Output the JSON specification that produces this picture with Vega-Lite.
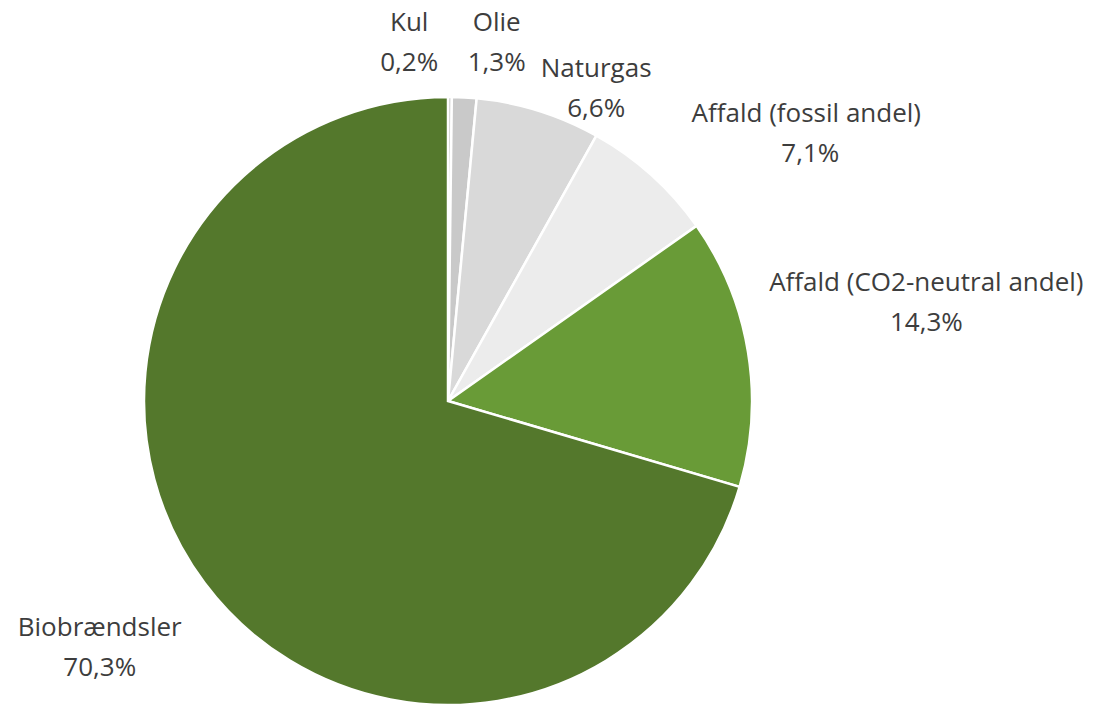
{
  "$schema": "https://vega.github.io/schema/vega-lite/v6.json",
  "autosize": {"type": "none"},
  "width": 896,
  "height": 608,
  "padding": {"left": 0, "top": 97, "right": 205, "bottom": 0},
  "background": "white",
  "config": {
    "view": {"stroke": null},
    "locale": {"number": {"decimal": ",", "thousands": ".", "grouping": [3], "currency": ["", " kr."]}}
  },
  "data": {
    "values": [
      {"nr": 1, "kategori": "Kul", "andel": 0.002},
      {"nr": 2, "kategori": "Olie", "andel": 0.013},
      {"nr": 3, "kategori": "Naturgas", "andel": 0.066},
      {"nr": 4, "kategori": "Affald (fossil andel)", "andel": 0.071},
      {"nr": 5, "kategori": "Affald (CO2-neutral andel)", "andel": 0.143},
      {"nr": 6, "kategori": "Biobrændsler", "andel": 0.703}
    ]
  },
  "encoding": {
    "theta": {"field": "andel", "type": "quantitative", "stack": true},
    "order": {"field": "nr", "type": "ordinal"},
    "detail": {"field": "kategori", "type": "nominal"}
  },
  "layer": [
    {
      "mark": {"type": "arc", "stroke": "white", "strokeWidth": 2.5},
      "encoding": {
        "color": {
          "field": "kategori",
          "type": "nominal",
          "legend": null,
          "scale": {
            "domain": ["Kul", "Olie", "Naturgas", "Affald (fossil andel)", "Affald (CO2-neutral andel)", "Biobrændsler"],
            "range": ["#bcbcbc", "#c9c9c9", "#d9d9d9", "#ececec", "#699b37", "#54782c"]
          }
        }
      }
    },
    {
      "mark": {
        "type": "text",
        "radius": 350,
        "font": "Open Sans",
        "fontSize": 26,
        "color": "#3d3d3d",
        "align": "center",
        "baseline": "middle",
        "dx": {"expr": "datum.kategori == 'Kul' ? -41 : datum.kategori == 'Olie' ? 30 : datum.kategori == 'Naturgas' ? 44 : datum.kategori == 'Affald (fossil andel)' ? 124 : datum.kategori == 'Affald (CO2-neutral andel)' ? 133 : -68"},
        "dy": {"expr": "(datum.kategori == 'Kul' ? -8 : datum.kategori == 'Olie' ? -9 : datum.kategori == 'Naturgas' ? 22 : datum.kategori == 'Affald (fossil andel)' ? -7 : datum.kategori == 'Affald (CO2-neutral andel)' ? -41 : 37) - 20"}
      },
      "encoding": {"text": {"field": "kategori", "type": "nominal"}}
    },
    {
      "mark": {
        "type": "text",
        "radius": 350,
        "font": "Open Sans",
        "fontSize": 26,
        "color": "#3d3d3d",
        "align": "center",
        "baseline": "middle",
        "dx": {"expr": "datum.kategori == 'Kul' ? -41 : datum.kategori == 'Olie' ? 30 : datum.kategori == 'Naturgas' ? 44 : datum.kategori == 'Affald (fossil andel)' ? 128 : datum.kategori == 'Affald (CO2-neutral andel)' ? 133 : -68"},
        "dy": {"expr": "(datum.kategori == 'Kul' ? -8 : datum.kategori == 'Olie' ? -9 : datum.kategori == 'Naturgas' ? 22 : datum.kategori == 'Affald (fossil andel)' ? -7 : datum.kategori == 'Affald (CO2-neutral andel)' ? -41 : 37) + 20"}
      },
      "encoding": {"text": {"field": "andel", "type": "quantitative", "format": ".1%"}}
    }
  ]
}
